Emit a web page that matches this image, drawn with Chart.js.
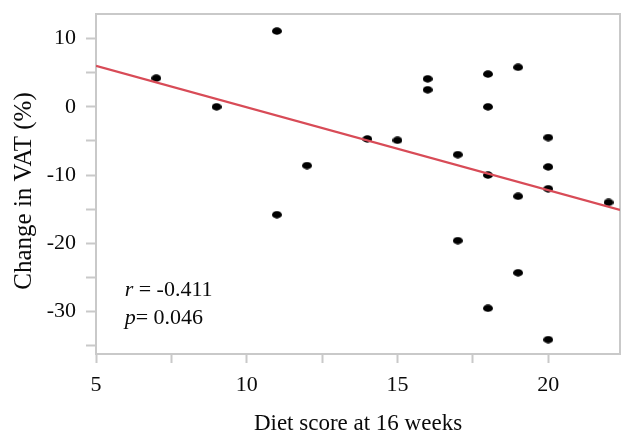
<!DOCTYPE html>
<html>
<head>
<meta charset="utf-8">
<script src="https://cdn.jsdelivr.net/npm/chart.js@4/dist/chart.umd.min.js"></script>
<style>
  html, body { margin: 0; padding: 0; background: #fff; }
  #wrap { width: 625px; height: 435px; }
</style>
</head>
<body>
<div id="wrap"><canvas id="chart" width="625" height="435"></canvas></div>
<script>
// Datos
const dietScore = [7, 9, 11, 11, 12, 14, 15, 16, 16, 17, 17, 18, 18, 18, 18, 19, 19, 19, 20, 20, 20, 20, 22];
const vatChange = [4.2, 0, 11.1, -15.8, -8.6, -4.7, -4.9, 4.1, 2.5, -7.0, -19.6, 4.8, 0, -10.0, -29.5, 5.8, -13.1, -24.3, -4.5, -8.8, -12.0, -34.1, -14.0];

// Recta de regresión (extremos leídos)
const fitX = [5, 22.38];
const fitY = [6.0, -15.1];

const statsLines = [
  { italic: 'r', rest: ' = -0.411' },
  { italic: 'p', rest: '= 0.046' }
];
const statsAnchor = { x: 5.95, y: -26.8 };
const yTitle = 'Change in VAT (%)';

const SERIF = '"Liberation Serif", "Times New Roman", serif';
const GREY = '#c9c9c9';
const INK = '#0a0a0a';

// Punto elíptico (los puntos del original están un poco aplastados)
function makeDot() {
  const c = document.createElement('canvas');
  c.width = 10; c.height = 8;
  const g = c.getContext('2d');
  g.fillStyle = '#000';
  g.beginPath();
  g.ellipse(5, 4, 5, 3.7, 0, 0, Math.PI * 2);
  g.fill();
  return c;
}

// Marco gris, título del eje Y y texto de estadística
const framePlugin = {
  id: 'frame',
  beforeDatasetsDraw(chart) {
    const { ctx, chartArea: a } = chart;
    ctx.save();
    ctx.strokeStyle = GREY;
    ctx.lineWidth = 2;
    ctx.beginPath();
    ctx.moveTo(a.left, a.top);
    ctx.lineTo(a.right, a.top);
    ctx.lineTo(a.right, a.bottom);
    ctx.stroke();

    // título vertical, un poco por debajo del centro como en el original
    ctx.translate(24, (a.top + a.bottom) / 2 + 7);
    ctx.rotate(-Math.PI / 2);
    ctx.fillStyle = INK;
    ctx.font = '25px ' + SERIF;
    ctx.textAlign = 'center';
    ctx.textBaseline = 'middle';
    ctx.fillText(yTitle, 0, 0);
    ctx.restore();
  },
  afterDatasetsDraw(chart) {
    const { ctx, scales } = chart;
    const x0 = scales.x.getPixelForValue(statsAnchor.x);
    let y = scales.y.getPixelForValue(statsAnchor.y);
    ctx.save();
    ctx.fillStyle = INK;
    ctx.textBaseline = 'middle';
    statsLines.forEach(line => {
      ctx.font = 'italic 22px ' + SERIF;
      ctx.fillText(line.italic, x0, y);
      const w = ctx.measureText(line.italic).width;
      ctx.font = '22px ' + SERIF;
      ctx.fillText(line.rest, x0 + w, y);
      y += 28;
    });
    ctx.restore();
  }
};

const points = dietScore.map((x, i) => ({ x, y: vatChange[i] }));
const fitLine = fitX.map((x, i) => ({ x, y: fitY[i] }));

new Chart(document.getElementById('chart'), {
  type: 'scatter',
  data: {
    datasets: [
      {
        data: fitLine,
        type: 'line',
        borderColor: '#d84b57',
        borderWidth: 2.2,
        pointRadius: 0,
        fill: false
      },
      {
        data: points,
        pointStyle: makeDot(),
        pointRadius: 5,
        backgroundColor: '#000',
        borderWidth: 0
      }
    ]
  },
  options: {
    responsive: false,
    animation: false,
    layout: { padding: { top: 14, right: 2, left: 0, bottom: 0 } },
    plugins: { legend: { display: false }, tooltip: { enabled: false } },
    scales: {
      x: {
        type: 'linear',
        min: 5,
        max: 22.38,
        afterFit: s => { s.height = 81; s.paddingLeft = 0; s.paddingRight = 0; },
        border: { display: true, color: GREY, width: 2 },
        grid: { drawOnChartArea: false, drawTicks: true, tickLength: 9, tickColor: GREY, tickWidth: 2 },
        ticks: {
          stepSize: 2.5,
          includeBounds: false,
          autoSkip: false,
          maxRotation: 0,
          padding: 9,
          color: INK,
          font: { family: SERIF, size: 22 },
          callback: v => (v % 5 === 0 ? v : '')
        },
        title: {
          display: true,
          text: 'Diet score at 16 weeks',
          color: INK,
          font: { family: SERIF, size: 23, lineHeight: 1 },
          padding: 0
        }
      },
      y: {
        min: -36.2,
        max: 13.6,
        afterFit: s => { s.width = 96; s.paddingTop = 0; s.paddingBottom = 0; },
        border: { display: true, color: GREY, width: 2 },
        grid: { drawOnChartArea: false, drawTicks: true, tickLength: 10, tickColor: GREY, tickWidth: 2 },
        ticks: {
          stepSize: 5,
          includeBounds: false,
          autoSkip: false,
          padding: 10,
          color: INK,
          font: { family: SERIF, size: 22 },
          callback: v => (v % 10 === 0 ? v : '')
        },
        title: { display: false }
      }
    }
  },
  plugins: [framePlugin]
});
</script>
</body>
</html>
